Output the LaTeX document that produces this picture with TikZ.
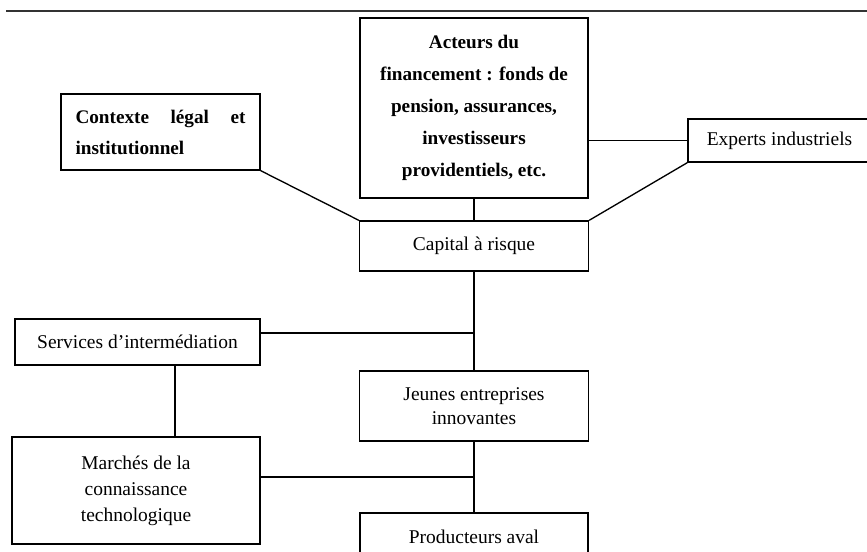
\documentclass[tikz,border=0pt]{standalone}
\usepackage{fontspec}
\setmainfont{Liberation Serif}
\begin{document}
\begin{tikzpicture}[x=0.75pt,y=-0.75pt,
  box/.style={draw, line width=1pt, inner sep=0pt, align=center, font=\fontsize{14.6}{18}\selectfont},
  boldbox/.style={box, font=\bfseries\fontsize{14.4}{24}\selectfont},
  link/.style={line width=1pt}]
\clip (0,0) rectangle (867,552);
\draw[line width=2pt, black!80] (6,11) -- (867,11);

\node[boldbox, minimum width=171pt, minimum height=135pt] (acteurs) at (474,108)
  {Acteurs du\\financement : fonds de\\pension, assurances,\\investisseurs\\providentiels, etc.};
\node[boldbox, minimum width=149.25pt, minimum height=57pt, font=\bfseries\fontsize{14.4}{23.3}\selectfont] (contexte) at (160.5,132)
  {\begin{minipage}{127.5pt}Contexte\hfill légal\hfill et\\institutionnel\end{minipage}};
\node[box, minimum width=137.25pt, minimum height=32.25pt] (experts) at (779.5,140.5) {Experts industriels};
\node[box, minimum width=171.75pt, minimum height=37.5pt] (capital) at (474,246) {Capital à risque};
\node[box, minimum width=183.75pt, minimum height=34.5pt] (services) at (137.5,342) {Services d’intermédiation};
\node[box, minimum width=171.75pt, minimum height=52.5pt] (jeunes) at (474,406) {Jeunes entreprises\\innovantes};
\node[box, minimum width=186pt, minimum height=80.25pt, font=\fontsize{14.6}{19.5}\selectfont] (marches) at (136,490.5)
  {Marchés de la\\connaissance\\technologique};
\node[box, minimum width=171pt, minimum height=36pt] (producteurs) at (474,537) {Producteurs aval};

\coordinate (j1) at (474,333);
\coordinate (j2) at (474,477);
\coordinate (sx) at (175,0);

\draw[link] (acteurs.south) -- (capital.north);
\draw[link] (acteurs.east |- experts.west) -- (experts.west);
\draw[link] (capital.north west) -- (contexte.south east);
\draw[link] (capital.north east) -- (experts.south west);
\draw[link] (capital.south) -- (jeunes.north);
\draw[link] (services.east |- j1) -- (j1);
\draw[link] (services.south -| sx) -- (marches.north -| sx);
\draw[link] (marches.east |- j2) -- (j2);
\draw[link] (jeunes.south) -- (producteurs.north);
\end{tikzpicture}
\end{document}
